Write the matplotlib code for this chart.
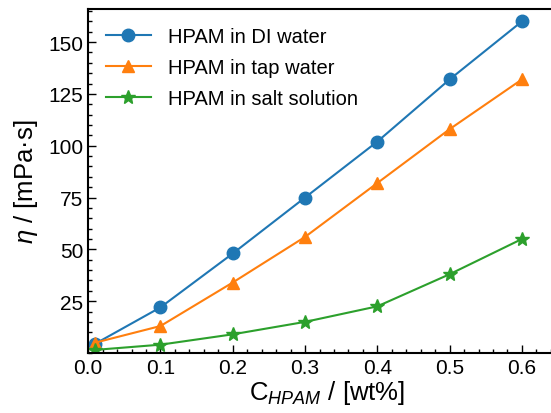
import matplotlib
matplotlib.use("Agg")
import matplotlib.pyplot as plt
from matplotlib.ticker import MultipleLocator, AutoMinorLocator

plt.rcParams['font.family'] = ['Liberation Sans', 'DejaVu Sans']
plt.rcParams['mathtext.fontset'] = 'custom'
plt.rcParams['mathtext.rm'] = 'Liberation Sans'
plt.rcParams['mathtext.it'] = 'Liberation Sans:italic'
plt.rcParams['mathtext.bf'] = 'Liberation Sans:bold'

conc = [0.01, 0.1, 0.2, 0.3, 0.4, 0.5, 0.6]
di_water = [4.5, 22, 48, 75, 102, 132, 160]
tap_water = [5, 13, 34, 56, 82, 108, 132]
salt_solution = [1.5, 4, 9, 15, 22.5, 38, 55]
labels = ["HPAM in DI water", "HPAM in tap water", "HPAM in salt solution"]

fig = plt.figure(figsize=(5.51, 4.14), dpi=100)
ax = fig.add_axes([0.16, 0.145, 0.866, 0.831])

ax.plot(conc, di_water, '-o', color='#1f77b4', lw=1.5, ms=9, label=labels[0])
ax.plot(conc, tap_water, '-^', color='#ff7f0e', lw=1.5, ms=9, label=labels[1])
ax.plot(conc, salt_solution, '-*', color='#2ca02c', lw=1.5, ms=10, label=labels[2])

ax.set_xlim(0, 0.66)
ax.set_ylim(0, 166)
ax.xaxis.set_major_locator(MultipleLocator(0.1))
ax.xaxis.set_minor_locator(AutoMinorLocator(5))
ax.yaxis.set_major_locator(MultipleLocator(25))
ax.yaxis.set_minor_locator(AutoMinorLocator(5))
ax.set_yticks([25, 50, 75, 100, 125, 150])
ax.set_xticks([0.0, 0.1, 0.2, 0.3, 0.4, 0.5, 0.6])
ax.tick_params(which='both', direction='in', labelsize=15)
ax.tick_params(which='major', length=6, width=1)
ax.tick_params(which='minor', length=3, width=1)
for s in ax.spines.values():
    s.set_linewidth(1.5)

ax.set_xlabel("C$_{HPAM}$ / [wt%]", fontsize=18.5, labelpad=1)
ax.set_ylabel("$\\eta$ / [mPa·s]", fontsize=18.5, labelpad=6)

ax.legend(loc='upper left', frameon=False, fontsize=14.5, handlelength=2.2,
          handletextpad=0.85, borderaxespad=0.5, labelspacing=0.6)

fig.savefig("out.png", dpi=100)
